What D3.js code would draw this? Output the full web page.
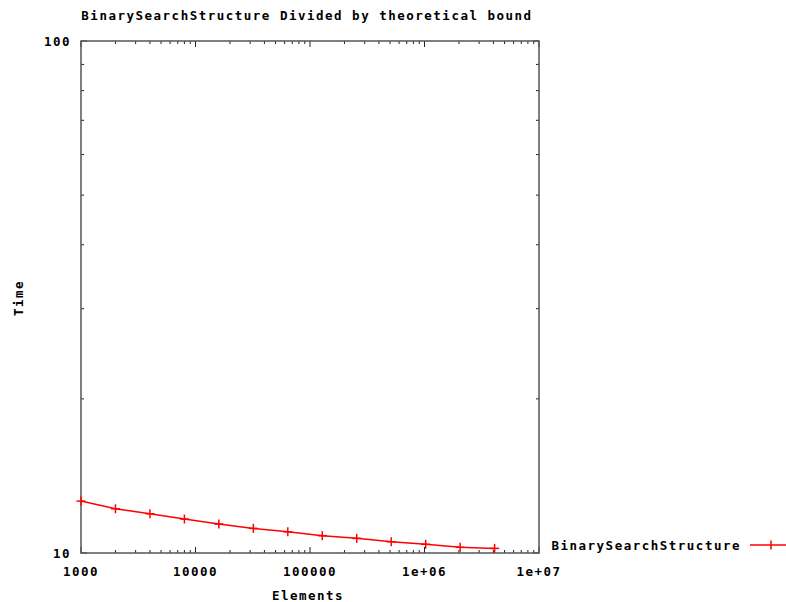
<!DOCTYPE html>
<html>
<head>
<meta charset="utf-8">
<script src="https://cdn.jsdelivr.net/npm/d3@7"></script>
<style>
  body { margin: 0; background: #fff; }
  text { font-family: "DejaVu Sans Mono", monospace; font-weight: bold; font-size: 12.5px; letter-spacing: 1.5px; fill: #000; }
</style>
</head>
<body>
<svg id="chart" width="786" height="602"></svg>
<script>
// data
let elements = [1000, 2000, 4000, 8000, 16000, 32000, 64000, 128000, 256000, 512000, 1024000, 2048000, 4096000];
let times = [12.63, 12.20, 11.93, 11.65, 11.39, 11.17, 11.00, 10.81, 10.68, 10.52, 10.40, 10.26, 10.21];
let xTickValues = [1000, 10000, 100000, 1e6, 1e7];
let xTickLabels = ["1000", "10000", "100000", "1e+06", "1e+07"];
let yTickValues = [10, 100];
let yTickLabels = ["10", "100"];
let seriesName = "BinarySearchStructure";

let margin = {top: 41, left: 81},
    width = 458,
    height = 512;

let svg = d3.select("#chart");
let g = svg.append("g").attr("transform", "translate(" + margin.left + "," + margin.top + ")");

let x = d3.scaleLog().domain([1000, 1e7]).range([0, width]);
let y = d3.scaleLog().domain([10, 100]).range([height, 0]);

let axisColor = "#222";

// minor + major ticks on all four sides
let xAll = x.ticks();
let yAll = y.ticks();
function isMajor(v) { return Math.abs(Math.log10(v) - Math.round(Math.log10(v))) < 1e-9; }

xAll.forEach(v => {
    let len = isMajor(v) ? 6 : 3;
    g.append("line").attr("x1", x(v)).attr("x2", x(v)).attr("y1", height).attr("y2", height - len)
        .attr("stroke", axisColor).attr("stroke-width", 1);
    g.append("line").attr("x1", x(v)).attr("x2", x(v)).attr("y1", 0).attr("y2", len)
        .attr("stroke", axisColor).attr("stroke-width", 1);
});
yAll.forEach(v => {
    let len = isMajor(v) ? 6 : 3;
    g.append("line").attr("y1", y(v)).attr("y2", y(v)).attr("x1", 0).attr("x2", len)
        .attr("stroke", axisColor).attr("stroke-width", 1);
    g.append("line").attr("y1", y(v)).attr("y2", y(v)).attr("x1", width).attr("x2", width - len)
        .attr("stroke", axisColor).attr("stroke-width", 1);
});

// frame
g.append("rect").attr("x", 0).attr("y", 0).attr("width", width).attr("height", height)
    .attr("fill", "none").attr("stroke", "#555").attr("stroke-width", 1.5);

// tick labels
xTickValues.forEach((v, i) => {
    g.append("text").attr("x", x(v)).attr("y", height + 23)
        .style("text-anchor", "middle").text(xTickLabels[i]);
});
yTickValues.forEach((v, i) => {
    g.append("text").attr("x", -10).attr("y", y(v) + 5)
        .style("text-anchor", "end").text(yTickLabels[i]);
});

// title and axis labels
svg.append("text").attr("x", 307).attr("y", 20).style("text-anchor", "middle")
    .text("BinarySearchStructure Divided by theoretical bound");
svg.append("text").attr("x", 308).attr("y", 600).style("text-anchor", "middle").text("Elements");
svg.append("text").attr("transform", "translate(23,298) rotate(-90)").style("text-anchor", "middle").text("Time");

// series line
let data = elements.map((e, i) => ({e: e, t: times[i]}));
let valueline = d3.line().x(d => x(d.e)).y(d => y(d.t));
g.append("path").datum(data).attr("d", valueline)
    .attr("fill", "none").attr("stroke", "#ff0000").attr("stroke-width", 1.5);

// plus markers
let pts = g.selectAll(".pt").data(data).enter().append("g")
    .attr("transform", d => "translate(" + x(d.e) + "," + y(d.t) + ")");
pts.append("line").attr("x1", -4.5).attr("x2", 4.5).attr("stroke", "#ff0000").attr("stroke-width", 1.5);
pts.append("line").attr("y1", -4.5).attr("y2", 4.5).attr("stroke", "#ff0000").attr("stroke-width", 1.5);

// legend
let ly = 545;
svg.append("text").attr("x", 741).attr("y", ly + 5).style("text-anchor", "end").text(seriesName);
svg.append("line").attr("x1", 750).attr("x2", 792).attr("y1", ly).attr("y2", ly)
    .attr("stroke", "#ff0000").attr("stroke-width", 1.5);
svg.append("line").attr("x1", 771).attr("x2", 771).attr("y1", ly - 4.5).attr("y2", ly + 4.5)
    .attr("stroke", "#ff0000").attr("stroke-width", 1.5);
</script>
</body>
</html>
